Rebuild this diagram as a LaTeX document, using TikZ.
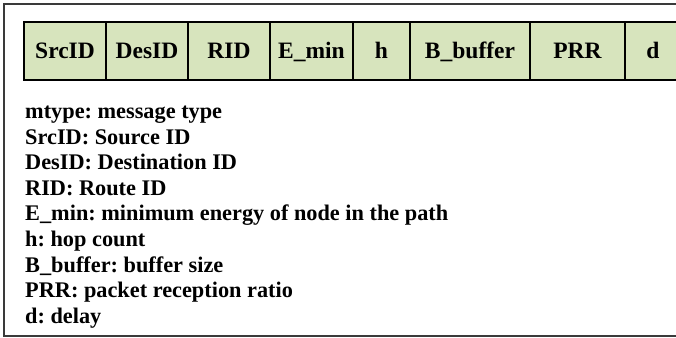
\documentclass[tikz,border=0pt]{standalone}
\usepackage{fontspec}
\setmainfont{Liberation Serif}
\frenchspacing
\definecolor{cellgreen}{HTML}{D7E4BD}
\definecolor{framegray}{HTML}{3A3A3A}
\begin{document}
\begin{tikzpicture}[x=1pt,y=-1pt,
  cell/.style={draw=black,line width=2pt,fill=cellgreen,minimum height=58pt,inner sep=0pt,anchor=west,
    text height=18pt,text depth=2pt,
    font=\fontsize{23.5}{26}\selectfont\bfseries},
  legend/.style={anchor=base west,inner sep=0pt,font=\fontsize{22.3}{25}\selectfont\bfseries}]
\useasboundingbox (0,0) rectangle (676,337);
\draw[framegray,line width=1.5pt] (680,4) -- (4,4) -- (4,336) -- (680,336);
\node[cell,minimum width=82pt] (c1) at (23,51) {SrcID};
\node[cell,minimum width=82pt] (c2) at (105,51) {DesID};
\node[cell,minimum width=82pt] (c3) at (187,51) {RID};
\node[cell,minimum width=83pt] (c4) at (269,51) {E\_min};
\node[cell,minimum width=57pt] (c5) at (352,51) {h};
\node[cell,minimum width=120pt] (c6) at (409,51) {B\_buffer};
\node[cell,minimum width=95pt] (c7) at (529,51) {PRR};
\node[cell,minimum width=56pt] (c8) at (624,51) {d};
\node[legend] (l1) at (25,118.5) {mtype: message type};
\node[legend] (l2) at (25,144.1) {SrcID: Source ID};
\node[legend] (l3) at (25,169.7) {DesID: Destination ID};
\node[legend] (l4) at (25,195.3) {RID: Route ID};
\node[legend] (l5) at (25,220.9) {E\_min: minimum energy of node in the path};
\node[legend] (l6) at (25,246.5) {h: hop count};
\node[legend] (l7) at (25,272.1) {B\_buffer: buffer size};
\node[legend] (l8) at (25,297.7) {PRR: packet reception ratio};
\node[legend] (l9) at (25,323.3) {d: delay};
\end{tikzpicture}
\end{document}
